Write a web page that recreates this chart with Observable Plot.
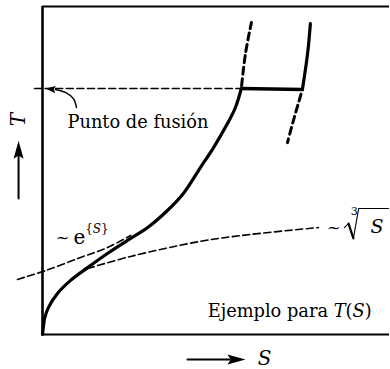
<!DOCTYPE html>
<html><head><meta charset="utf-8">
<script src="https://cdn.jsdelivr.net/npm/d3@7"></script>
<script src="https://cdn.jsdelivr.net/npm/@observablehq/plot@0.6"></script>
<style>body{margin:0;background:#fff}</style>
</head><body><div id="chart"></div>
<script>
// Main T(S) curve (solid phase heating)
const solidS = [0, 0.03, 0.06, 0.17, 0.43, 0.81, 1.30, 1.87, 2.45, 3.03, 3.60, 4.06, 4.55, 4.93, 5.33, 5.56, 5.73];
const solidT = [0, 0.27, 0.49, 0.82, 1.25, 1.65, 2.04, 2.47, 2.87, 3.26, 3.78, 4.30, 5.09, 5.70, 6.43, 6.92, 7.50];
// melting plateau
const plateauS = [5.73, 7.49];
const plateauT = [7.50, 7.47];
// liquid branch
const liquidS = [7.49, 7.64, 7.72];
const liquidT = [7.47, 8.57, 9.48];
// metastable continuations (dashed)
const superS = [5.73, 5.85, 6.02];
const superT = [7.50, 8.57, 9.51];
const coolS = [7.49, 7.23, 7.06];
const coolT = [7.47, 6.52, 5.85];
// melting point guide
const meltS = [-0.23, 5.73];
const meltT = [7.50, 7.50];
// asymptotic guides
const expS = [-0.72, 0.09, 1.10, 1.87, 2.54];
const expT = [1.68, 1.95, 2.35, 2.65, 3.02];
const cbrtS = [1.30, 2.54, 4.55, 5.99, 7.95];
const cbrtT = [2.01, 2.38, 2.84, 3.05, 3.26];
// curved pointer from label to melting point
const pointerS = [0.98, 0.89, 0.66, 0.37];
const pointerT = [6.92, 7.19, 7.38, 7.47];
const pointerTip = {S: 0.09, T: 7.50};
// axis arrows
const tArrowS = [-0.69, -0.69];
const tArrowT = [4.15, 5.45];
const tArrowTip = {S: -0.69, T: 5.91};
const sArrowS = [4.18, 5.40];
const sArrowT = [-0.76, -0.76];
const sArrowTip = {S: 5.85, T: -0.76};
// labels
const labelText = ["Punto de fusión", "Ejemplo para T(S)"];
const labelS = [0.72, 4.76];
const labelT = [6.31, 0.52];
// exponential label pieces
const expTilde = {S: 0.38, T: 2.80};
const expBase = {S: 0.89, T: 2.77};
// cube root label pieces
const cbrtTilde = {S: 8.20, T: 3.08};
const cbrtIndex = {S: 8.88, T: 3.63};
const cbrtVar = {S: 9.45, T: 3.08};
const radHookS = [8.70, 8.82], radHookT = [3.26, 3.38];
const radThickS = [8.82, 8.96], radThickT = [3.38, 2.93];
const radThinS = [8.96, 9.11, 9.97], radThinT = [2.93, 3.84, 3.84];
// axis names
const axisT = {S: -0.69, T: 6.55};
const axisS = {S: 6.20, T: -0.915};

const serif = "DejaVu Serif";
const rows = (S, T) => S.map((s, i) => ({S: s, T: T[i]}));
const head = (w) => ({draw(ctx, l) {
  ctx.moveTo(0, -l); ctx.lineTo(w, 0); ctx.lineTo(0, -l * 0.18); ctx.lineTo(-w, 0); ctx.closePath();
}});
const txt = (t, p, o = {}) => Plot.text([t], {x: () => p.S, y: () => p.T, text: d => d,
  fontFamily: serif, fontSize: 18, fill: "black", textAnchor: "start", lineAnchor: "bottom", ...o});

const svg = Plot.plot({
  width: 390, height: 369,
  marginLeft: 42, marginRight: 1, marginTop: 6, marginBottom: 35,
  x: {domain: [0, 10], axis: null},
  y: {domain: [0, 10], axis: null},
  marks: [
    Plot.ruleX([0], {strokeWidth: 2.6}),
    Plot.ruleY([0, 10], {strokeWidth: 2}),
    Plot.line(rows(meltS, meltT), {x: "S", y: "T", strokeWidth: 1.6, strokeDasharray: "7,3.6"}),
    Plot.line(rows(expS, expT), {x: "S", y: "T", curve: "catmull-rom", strokeWidth: 1.6, strokeDasharray: "7,3.6"}),
    Plot.line(rows(cbrtS, cbrtT), {x: "S", y: "T", curve: "catmull-rom", strokeWidth: 1.6, strokeDasharray: "7,3.6"}),
    Plot.line(rows(superS, superT), {x: "S", y: "T", curve: "catmull-rom", strokeWidth: 3, strokeDasharray: "7,4.5", strokeDashoffset: -3}),
    Plot.line(rows(coolS, coolT), {x: "S", y: "T", curve: "catmull-rom", strokeWidth: 3, strokeDasharray: "7,4.5", strokeDashoffset: -5}),
    Plot.line(rows(solidS, solidT), {x: "S", y: "T", curve: "catmull-rom", strokeWidth: 3.2}),
    Plot.line(rows(plateauS, plateauT), {x: "S", y: "T", strokeWidth: 3.4}),
    Plot.line(rows(liquidS, liquidT), {x: "S", y: "T", curve: "catmull-rom", strokeWidth: 3.2}),
    Plot.line(rows(pointerS, pointerT), {x: "S", y: "T", curve: "catmull-rom", strokeWidth: 1.5}),
    Plot.vector([pointerTip], {x: "S", y: "T", length: 10, rotate: -84, anchor: "end", shape: head(3.6), fill: "black", stroke: "none"}),
    Plot.line(rows(tArrowS, tArrowT), {x: "S", y: "T", strokeWidth: 2}),
    Plot.vector([tArrowTip], {x: "S", y: "T", length: 18, rotate: 0, anchor: "end", shape: head(5), fill: "black", stroke: "none"}),
    Plot.line(rows(sArrowS, sArrowT), {x: "S", y: "T", strokeWidth: 2}),
    Plot.vector([sArrowTip], {x: "S", y: "T", length: 18, rotate: 90, anchor: "end", shape: head(5), fill: "black", stroke: "none"}),
    Plot.text(labelText, {x: (d, i) => labelS[i], y: (d, i) => labelT[i], text: d => d,
      fontFamily: serif, fontSize: 17.8, fill: "black", textAnchor: "start", lineAnchor: "bottom"}),
    txt("~", expTilde, {fontSize: 16}),
    txt("e{S}", expBase, {fontSize: 20}),
    txt("~", cbrtTilde, {fontSize: 16}),
    txt("3", cbrtIndex, {fontSize: 11}),
    txt("S", cbrtVar, {fontStyle: "italic", fontSize: 19}),
    Plot.line(rows(radHookS, radHookT), {x: "S", y: "T", strokeWidth: 1.1}),
    Plot.line(rows(radThickS, radThickT), {x: "S", y: "T", strokeWidth: 2.2}),
    Plot.line(rows(radThinS, radThinT), {x: "S", y: "T", strokeWidth: 1.1, strokeLinejoin: "miter"}),
    txt("T", axisT, {fontStyle: "italic", fontSize: 20, rotate: -90, textAnchor: "middle", lineAnchor: "middle"}),
    txt("S", axisS, {fontStyle: "italic", fontSize: 20})
  ]
});

const rich = {
  "Ejemplo para T(S)": [["Ejemplo para "], ["T", {italic: true}], ["("], ["S", {italic: true}], [")"]],
  "e{S}": [["e"], ["{", {dy: -11, size: 12}], ["S", {italic: true, size: 12}], ["}", {size: 12}]]
};
d3.select(svg).selectAll("text").each(function () {
  const parts = rich[this.textContent];
  if (!parts) return;
  this.textContent = "";
  for (const [t, o = {}] of parts) {
    const ts = d3.select(this).append("tspan").text(t);
    if (o.italic) ts.attr("font-style", "italic");
    if (o.dy) ts.attr("dy", o.dy);
    if (o.size) ts.attr("font-size", o.size);
  }
});
document.getElementById("chart").appendChild(svg);
</script>
</body></html>
